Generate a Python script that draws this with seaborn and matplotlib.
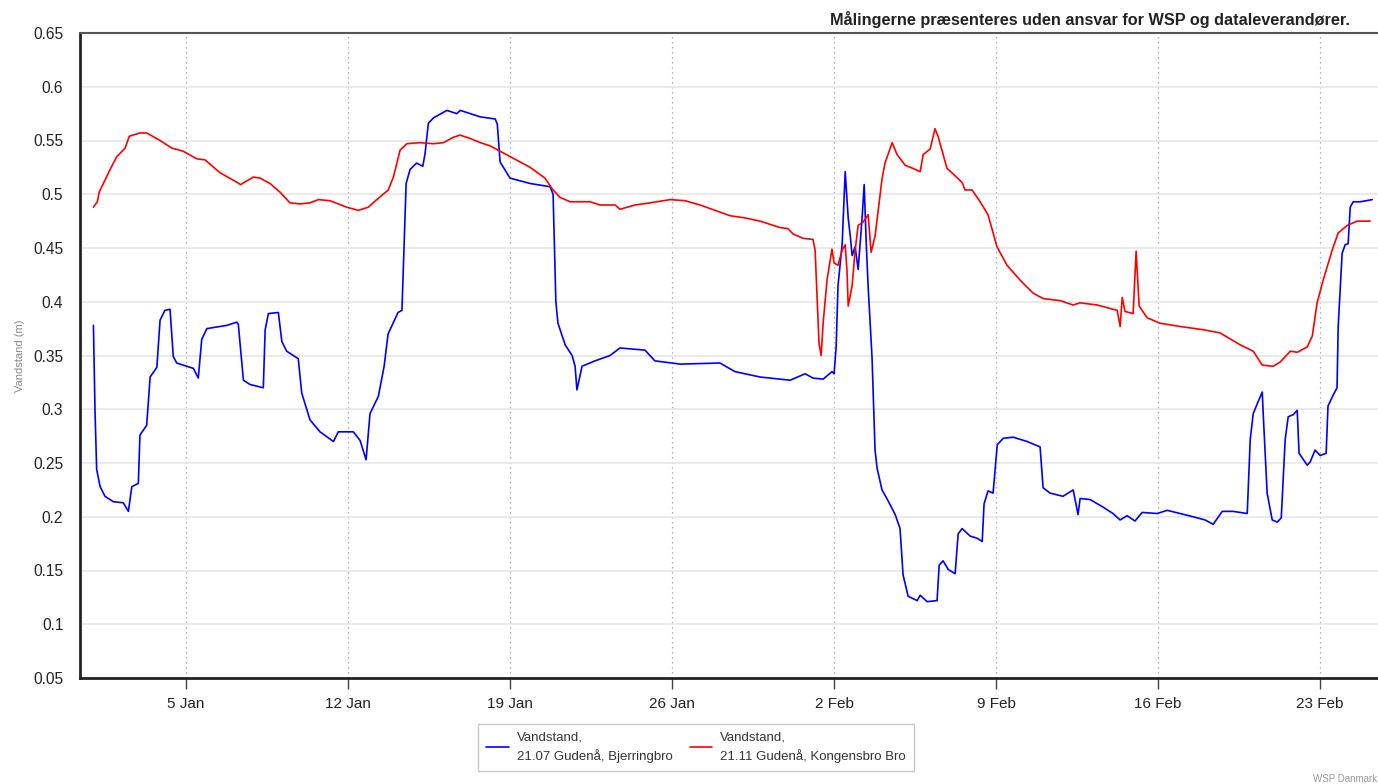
import pandas as pd
import matplotlib
matplotlib.use("Agg")
import matplotlib.pyplot as plt
import seaborn as sns

# days since 1 Jan, water level (m)
start = pd.Timestamp("2025-01-01")

blue_days = [0.00, 0.07, 0.14, 0.29, 0.50, 0.86, 1.29, 1.51, 1.66, 1.94, 2.01, 2.30, 2.45, 2.74,
             2.88, 3.09, 3.31, 3.45, 3.60, 4.32, 4.53, 4.68, 4.90, 5.76, 6.19, 6.26, 6.48, 6.77,
             7.34, 7.42, 7.56, 7.99, 8.14, 8.35, 8.85, 9.00, 9.36, 9.79, 10.37, 10.58, 11.23,
             11.52, 11.78, 11.95, 12.31, 12.56, 12.73, 13.16, 13.33, 13.51, 13.68, 13.96, 14.23,
             14.33, 14.47, 14.69, 15.27, 15.70, 15.85, 16.71, 17.36, 17.45, 17.57, 18.00, 18.87,
             19.73, 19.86, 19.98, 20.07, 20.38, 20.68, 20.81, 20.89, 21.11, 21.67, 22.32, 22.75,
             23.83, 24.26, 25.35, 27.07, 27.72, 28.80, 29.67, 30.10, 30.75, 31.09, 31.53, 31.91,
             32.00, 32.09, 32.17, 32.35, 32.48, 32.61, 32.70, 32.78, 32.91, 33.04, 33.21, 33.30,
             33.39, 33.47, 33.64, 33.77, 33.86, 34.07, 34.33, 34.64, 34.85, 34.98, 35.20, 35.59,
             35.72, 36.02, 36.45, 36.54, 36.71, 36.93, 37.23, 37.36, 37.53, 37.88, 38.18, 38.40,
             38.48, 38.65, 38.87, 39.05, 39.31, 39.74, 40.34, 40.90, 41.03, 41.33, 41.89, 42.33,
             42.54, 42.63, 43.06, 43.62, 44.05, 44.36, 44.66, 45.00, 45.31, 45.96, 46.39, 46.95,
             47.51, 48.03, 48.38, 48.77, 49.24, 49.85, 49.98, 50.11, 50.32, 50.50, 50.54, 50.71,
             50.93, 51.15, 51.32, 51.49, 51.62, 51.84, 52.01, 52.09, 52.44, 52.57, 52.78, 53.00,
             53.26, 53.34, 53.56, 53.73, 53.78, 53.95, 54.08, 54.21, 54.30, 54.43, 54.73, 55.25]
blue_level = [0.378, 0.297, 0.244, 0.228, 0.219, 0.214, 0.213, 0.205, 0.228, 0.231, 0.276, 0.285,
              0.330, 0.339, 0.383, 0.392, 0.393, 0.349, 0.343, 0.338, 0.329, 0.365, 0.375, 0.378,
              0.381, 0.379, 0.327, 0.323, 0.320, 0.374, 0.389, 0.390, 0.363, 0.354, 0.347, 0.315,
              0.290, 0.279, 0.270, 0.279, 0.279, 0.271, 0.253, 0.296, 0.312, 0.340, 0.370, 0.390,
              0.392, 0.510, 0.523, 0.529, 0.526, 0.538, 0.566, 0.571, 0.578, 0.575, 0.578, 0.572,
              0.570, 0.565, 0.530, 0.515, 0.510, 0.507, 0.500, 0.400, 0.380, 0.360, 0.350, 0.340,
              0.318, 0.340, 0.345, 0.350, 0.357, 0.355, 0.345, 0.342, 0.343, 0.335, 0.330, 0.328,
              0.327, 0.333, 0.329, 0.328, 0.335, 0.333, 0.358, 0.415, 0.454, 0.521, 0.478, 0.461,
              0.443, 0.451, 0.430, 0.478, 0.509, 0.454, 0.415, 0.348, 0.262, 0.245, 0.225, 0.215,
              0.202, 0.189, 0.146, 0.126, 0.122, 0.127, 0.121, 0.122, 0.155, 0.159, 0.151, 0.147,
              0.184, 0.189, 0.182, 0.180, 0.177, 0.212, 0.224, 0.222, 0.267, 0.273, 0.274, 0.270,
              0.265, 0.227, 0.222, 0.219, 0.225, 0.202, 0.217, 0.216, 0.209, 0.203, 0.197, 0.201,
              0.196, 0.204, 0.203, 0.206, 0.203, 0.200, 0.197, 0.193, 0.205, 0.205, 0.203, 0.272,
              0.296, 0.307, 0.316, 0.296, 0.222, 0.197, 0.195, 0.199, 0.272, 0.293, 0.295, 0.299,
              0.259, 0.248, 0.251, 0.262, 0.257, 0.259, 0.303, 0.313, 0.320, 0.377, 0.445, 0.453,
              0.454, 0.488, 0.493, 0.493, 0.495]

red_days = [0.00, 0.17, 0.25, 0.72, 1.01, 1.37, 1.55, 2.01, 2.30, 2.88, 3.38, 3.88, 4.46, 4.82,
            5.47, 6.05, 6.36, 6.91, 7.20, 7.63, 8.06, 8.49, 8.93, 9.36, 9.72, 10.22, 10.94, 11.45,
            11.88, 12.24, 12.74, 12.96, 13.25, 13.54, 14.11, 14.69, 15.12, 15.55, 15.84, 16.27,
            16.71, 17.14, 17.57, 18.00, 18.44, 18.87, 19.51, 19.82, 20.16, 20.60, 21.46, 21.89,
            22.54, 22.75, 23.40, 24.05, 24.92, 25.56, 26.21, 26.86, 27.51, 28.15, 28.80, 29.67,
            30.01, 30.23, 30.66, 31.09, 31.18, 31.27, 31.35, 31.44, 31.53, 31.70, 31.83, 31.91,
            32.00, 32.17, 32.35, 32.48, 32.56, 32.61, 32.78, 32.91, 33.04, 33.25, 33.47, 33.60,
            33.77, 33.90, 34.07, 34.20, 34.51, 34.72, 35.07, 35.41, 35.72, 35.85, 36.15, 36.36,
            36.49, 36.88, 37.14, 37.53, 37.66, 37.96, 38.31, 38.65, 39.04, 39.47, 40.04, 40.60,
            41.03, 41.77, 42.33, 42.63, 43.36, 44.23, 44.36, 44.45, 44.57, 44.92, 45.05, 45.18,
            45.53, 46.09, 46.95, 47.94, 48.68, 49.54, 50.11, 50.50, 50.97, 51.28, 51.71, 52.01,
            52.44, 52.66, 52.87, 53.13, 53.52, 53.78, 54.17, 54.60, 55.16]
red_level = [0.488, 0.493, 0.502, 0.523, 0.535, 0.543, 0.554, 0.557, 0.557, 0.550, 0.543, 0.540,
             0.533, 0.532, 0.520, 0.513, 0.509, 0.516, 0.515, 0.510, 0.502, 0.492, 0.491, 0.492,
             0.495, 0.494, 0.488, 0.485, 0.488, 0.495, 0.504, 0.516, 0.541, 0.547, 0.548, 0.547,
             0.548, 0.553, 0.555, 0.552, 0.548, 0.545, 0.540, 0.535, 0.530, 0.525, 0.515, 0.505,
             0.497, 0.493, 0.493, 0.490, 0.490, 0.486, 0.490, 0.492, 0.495, 0.494, 0.490, 0.485,
             0.480, 0.478, 0.475, 0.469, 0.468, 0.463, 0.459, 0.458, 0.448, 0.401, 0.361, 0.350,
             0.381, 0.421, 0.438, 0.449, 0.436, 0.434, 0.448, 0.453, 0.428, 0.396, 0.415, 0.448,
             0.471, 0.474, 0.481, 0.446, 0.461, 0.484, 0.514, 0.529, 0.548, 0.537, 0.527, 0.524,
             0.521, 0.537, 0.542, 0.561, 0.554, 0.524, 0.519, 0.511, 0.504, 0.504, 0.493, 0.481,
             0.451, 0.434, 0.420, 0.408, 0.403, 0.401, 0.397, 0.399, 0.397, 0.392, 0.377, 0.404,
             0.391, 0.389, 0.447, 0.396, 0.385, 0.380, 0.377, 0.374, 0.371, 0.360, 0.354, 0.341,
             0.340, 0.344, 0.354, 0.353, 0.358, 0.368, 0.399, 0.420, 0.448, 0.464, 0.471, 0.475,
             0.475]

blue_name = "Vandstand,\n21.07 Gudenå, Bjerringbro"
red_name = "Vandstand,\n21.11 Gudenå, Kongensbro Bro"

tick_days = [4, 11, 18, 25, 32, 39, 46, 53]
tick_labels = ["5 Jan", "12 Jan", "19 Jan", "26 Jan", "2 Feb", "9 Feb", "16 Feb", "23 Feb"]
y_ticks = [0.05, 0.1, 0.15, 0.2, 0.25, 0.3, 0.35, 0.4, 0.45, 0.5, 0.55, 0.6, 0.65]

sns.set_style("white")
plt.rcParams["font.family"] = ["Liberation Sans", "DejaVu Sans"]

blue = pd.DataFrame({"time": start + pd.to_timedelta(blue_days, unit="D"), "level": blue_level})
red = pd.DataFrame({"time": start + pd.to_timedelta(red_days, unit="D"), "level": red_level})

fig = plt.figure(figsize=(13.78, 7.84), dpi=100)
ax = fig.add_axes([80 / 1378, 1 - 678 / 784, 1 - 80 / 1378, (678 - 33) / 784])

sns.lineplot(data=blue, x="time", y="level", color="#0000ff", lw=1.2, ax=ax, label=blue_name)
sns.lineplot(data=red, x="time", y="level", color="#ff0000", lw=1.2, ax=ax, label=red_name)

ax.set_xlim(start - pd.Timedelta(days=0.58), start + pd.Timedelta(days=55.5))
ax.set_ylim(0.05, 0.65)
ax.set_yticks(y_ticks)
ax.set_yticklabels([f"{v:g}" for v in y_ticks], fontsize=11.2, color="#222222")
ticks = [start + pd.Timedelta(days=d) for d in tick_days]
ax.set_xticks(ticks)
ax.set_xticklabels(tick_labels, fontsize=11, color="#222222")
ax.tick_params(axis="x", length=8, width=1, color="#444444", pad=6, direction="out", bottom=True)
ax.tick_params(axis="y", length=0, pad=12)

for d in ticks:
    ax.axvline(d, color="#999999", lw=0.9, ls=(0, (1, 3)), zorder=0)
for v in y_ticks[1:-1]:
    ax.axhline(v, color="#e6e6e6", lw=1.2, zorder=0)

for s in ["left", "bottom"]:
    ax.spines[s].set_color("#222222")
    ax.spines[s].set_linewidth(2)
ax.spines["top"].set_color("#555555")
ax.spines["top"].set_linewidth(1.5)
ax.spines["right"].set_visible(False)

ax.set_xlabel("")
ax.set_ylabel("Vandstand (m)", fontsize=8, color="#888888", labelpad=6)

fig.text(1350 / 1378, 1 - 20 / 784, "Målingerne præsenteres uden ansvar for WSP og dataleverandører.",
         ha="right", va="center", fontsize=11.7, fontweight="bold", color="#222222")
fig.text(1377 / 1378, 1 - 779 / 784, "WSP Danmark", ha="right", va="center", fontsize=7, color="#999999")

ax.get_legend().remove()
h, l = ax.get_legend_handles_labels()
leg = fig.legend(h, l, loc="upper center", bbox_to_anchor=(696 / 1378, 1 - 724 / 784), ncol=2,
                 fontsize=9.5, frameon=True, fancybox=False, edgecolor="#bbbbbb", handlelength=1.7,
                 handletextpad=0.6, columnspacing=1.3, labelcolor="#333333", borderpad=0.6,
                 borderaxespad=0)
for t in leg.get_texts():
    t.set_linespacing(1.5)

fig.savefig("out.png", dpi=100)
